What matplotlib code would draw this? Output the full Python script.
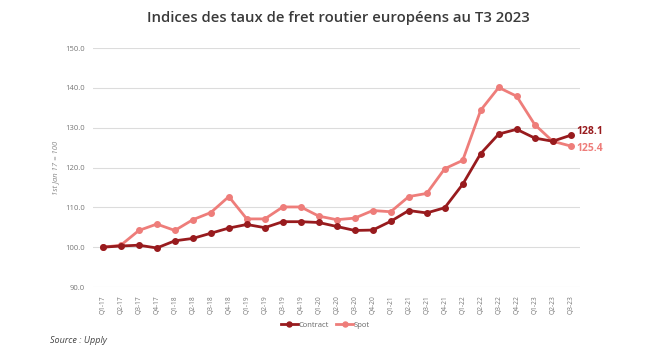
import matplotlib
matplotlib.use("Agg")
import matplotlib.pyplot as plt

# quarters Q1-17 .. Q3-23
quarters = ["Q1-17", "Q2-17", "Q3-17", "Q4-17",
            "Q1-18", "Q2-18", "Q3-18", "Q4-18",
            "Q1-19", "Q2-19", "Q3-19", "Q4-19",
            "Q1-20", "Q2-20", "Q3-20", "Q4-20",
            "Q1-21", "Q2-21", "Q3-21", "Q4-21",
            "Q1-22", "Q2-22", "Q3-22", "Q4-22",
            "Q1-23", "Q2-23", "Q3-23"]

contract = [100.0, 100.3, 100.5, 99.8, 101.6, 102.2, 103.5, 104.8,
            105.7, 104.9, 106.4, 106.4, 106.2, 105.2, 104.2, 104.3,
            106.5, 109.2, 108.6, 109.9, 115.8, 123.5, 128.4, 129.6,
            127.4, 126.6, 128.1]
spot = [100.0, 100.5, 104.2, 105.8, 104.2, 106.9, 108.7, 112.7,
        107.1, 107.1, 110.1, 110.1, 107.8, 106.9, 107.3, 109.2,
        108.9, 112.7, 113.5, 119.7, 121.8, 134.4, 140.1, 137.9,
        130.8, 126.6, 125.4]

yticks = [90, 100, 110, 120, 130, 140, 150]

c_contract = "#981b1e"
c_spot = "#ee7d7a"

plt.rcParams["font.family"] = ["Open Sans", "DejaVu Sans"]

fig = plt.figure(figsize=(6.64, 3.64), dpi=100)
ax = fig.add_axes([0.140, 0.2115, 0.733, 0.6565])

x = list(range(len(quarters)))
ax.plot(x, contract, color=c_contract, lw=2.0, marker="o", ms=4, label="Contract", zorder=3)
ax.plot(x, spot, color=c_spot, lw=2.0, marker="o", ms=4, label="Spot", zorder=2)

ax.set_xlim(-0.55, 26.5)
ax.set_ylim(90, 150)
ax.set_yticks(yticks)
ax.set_yticklabels([f"{v:.1f}" for v in yticks], fontsize=5.5, color="#777777")
ax.set_xticks(x)
ax.set_xticklabels(quarters, rotation=90, fontsize=4.8, color="#777777")
ax.tick_params(length=0, pad=6)
ax.grid(axis="y", color="#dcdcdc", lw=0.8)
ax.set_axisbelow(True)
for s in ax.spines.values():
    s.set_visible(False)

ax.set_ylabel("1st Jan 17 = 100", fontsize=5.5, style="italic", color="#888888", labelpad=4)

# end labels
ax.annotate(f"{contract[-1]:.1f}", (x[-1], contract[-1]), xytext=(4, 3), textcoords="offset points",
            color=c_contract, fontsize=7.5, fontweight="bold", va="center", annotation_clip=False)
ax.annotate(f"{spot[-1]:.1f}", (x[-1], spot[-1]), xytext=(4, -1.5), textcoords="offset points",
            color=c_spot, fontsize=7.5, fontweight="bold", va="center", annotation_clip=False)

fig.text(0.509, 0.95, "Indices des taux de fret routier européens au T3 2023",
         ha="center", va="center", fontsize=10.7, fontweight="semibold", color="#3a3a3a")

fig.legend(loc="center", bbox_to_anchor=(0.49, 0.107), ncol=2, frameon=False,
           fontsize=5.5, handlelength=2.2, columnspacing=1.0, handletextpad=0.1,
           labelcolor="#666666", markerscale=0.9)

fig.text(0.075, 0.065, "Source : Upply", fontsize=6.5, style="italic", color="#444444", va="center")

fig.savefig("out.png", dpi=100, facecolor="white")
